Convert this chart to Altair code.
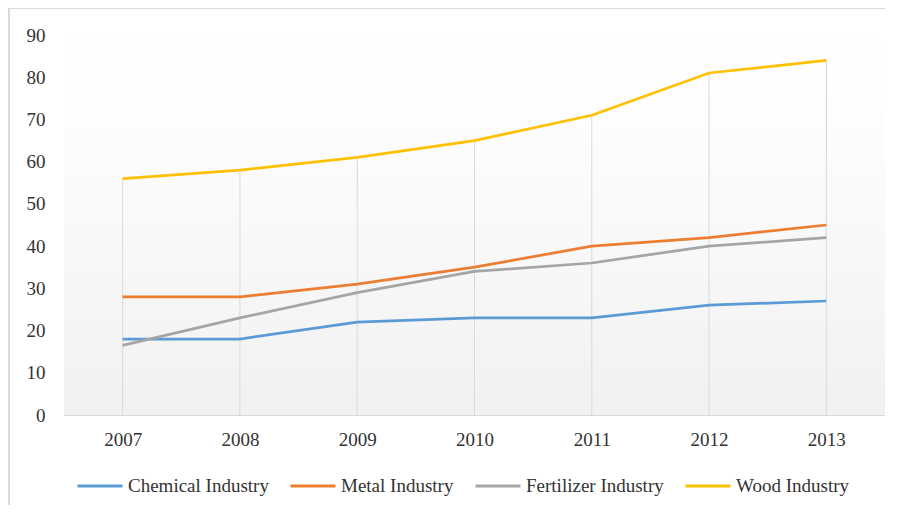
import altair as alt
import pandas as pd

years = ["2007", "2008", "2009", "2010", "2011", "2012", "2013"]
series_names = ["Chemical Industry", "Metal Industry", "Fertilizer Industry", "Wood Industry"]
chemical = [18, 18, 22, 23, 23, 26, 27]
metal = [28, 28, 31, 35, 40, 42, 45]
fertilizer = [16.5, 23, 29, 34, 36, 40, 42]
wood = [56, 58, 61, 65, 71, 81, 84]
colors = ["#5B9BD5", "#ED7D31", "#A5A5A5", "#FFC000"]

rows = []
for i, (name, vals) in enumerate(zip(series_names, [chemical, metal, fertilizer, wood])):
    for y, v in zip(years, vals):
        rows.append({"year": y, "value": v, "series": name, "ord": i})
df = pd.DataFrame(rows)

W, H = 821, 380
FONT = "Liberation Serif"

xscale = alt.Scale(type="point", padding=0.5)
xaxis = alt.Axis(title=None, labelAngle=0, ticks=False, domain=True,
                 domainColor="#d9d9d9", grid=False, labelFontSize=19,
                 labelPadding=15, labelColor="#333333", labelFont=FONT)
yscale = alt.Scale(domain=[0, 90], nice=False)
yaxis = alt.Axis(title=None, values=list(range(0, 91, 10)), ticks=False,
                 domain=False, grid=False, labelFontSize=19, labelPadding=19,
                 labelColor="#333333", labelFont=FONT)

bg = alt.Chart(pd.DataFrame({"a": [0]})).mark_rect(
    color=alt.Gradient(gradient="linear", x1=0, x2=0, y1=0, y2=1,
                       stops=[alt.GradientStop(offset=0, color="#ffffff"),
                              alt.GradientStop(offset=0.25, color="#fdfdfd"),
                              alt.GradientStop(offset=1, color="#f1f1f1")])
).encode(x=alt.value(0), x2=alt.value(W), y=alt.value(0), y2=alt.value(H))

drops = alt.Chart(df).transform_aggregate(
    top="max(value)", groupby=["year"]
).mark_rule(color="#d9d9d9", strokeWidth=1).encode(
    x=alt.X("year:O", scale=xscale, axis=xaxis),
    y=alt.Y("top:Q", scale=yscale, axis=yaxis),
    y2=alt.datum(0)
)

lines = alt.Chart(df).mark_line(strokeWidth=2.75).encode(
    x=alt.X("year:O", scale=xscale, axis=xaxis),
    y=alt.Y("value:Q", scale=yscale, axis=yaxis),
    color=alt.Color("series:N", scale=alt.Scale(domain=series_names, range=colors),
                    legend=alt.Legend(title=None, orient="none", direction="horizontal",
                                      columns=4, legendX=12, legendY=427,
                                      symbolType="stroke", symbolSize=2025,
                                      symbolStrokeWidth=3, labelFontSize=19,
                                      labelFont=FONT, labelColor="#333333",
                                      labelOffset=4, columnPadding=15)),
    order=alt.Order("ord:Q"),
    detail="series:N",
)

border_left = alt.Chart(pd.DataFrame({"a": [0]})).mark_rule(color="#d9d9d9", strokeWidth=2).encode(
    x=alt.value(-55), y=alt.value(-28), y2=alt.value(H + 130))
border_top = alt.Chart(pd.DataFrame({"a": [0]})).mark_rule(color="#d9d9d9", strokeWidth=2).encode(
    y=alt.value(-27), x=alt.value(-56), x2=alt.value(W))

chart = alt.layer(bg, drops, lines, border_left, border_top).properties(
    width=W, height=H,
    autosize=alt.AutoSizeParams(type="none"),
    padding={"left": 56, "top": 27, "right": 0, "bottom": 90}
).configure_view(stroke=None).configure(background="#ffffff", font=FONT)

chart.save("out.html", embed_options={"renderer": "svg", "actions": False})
